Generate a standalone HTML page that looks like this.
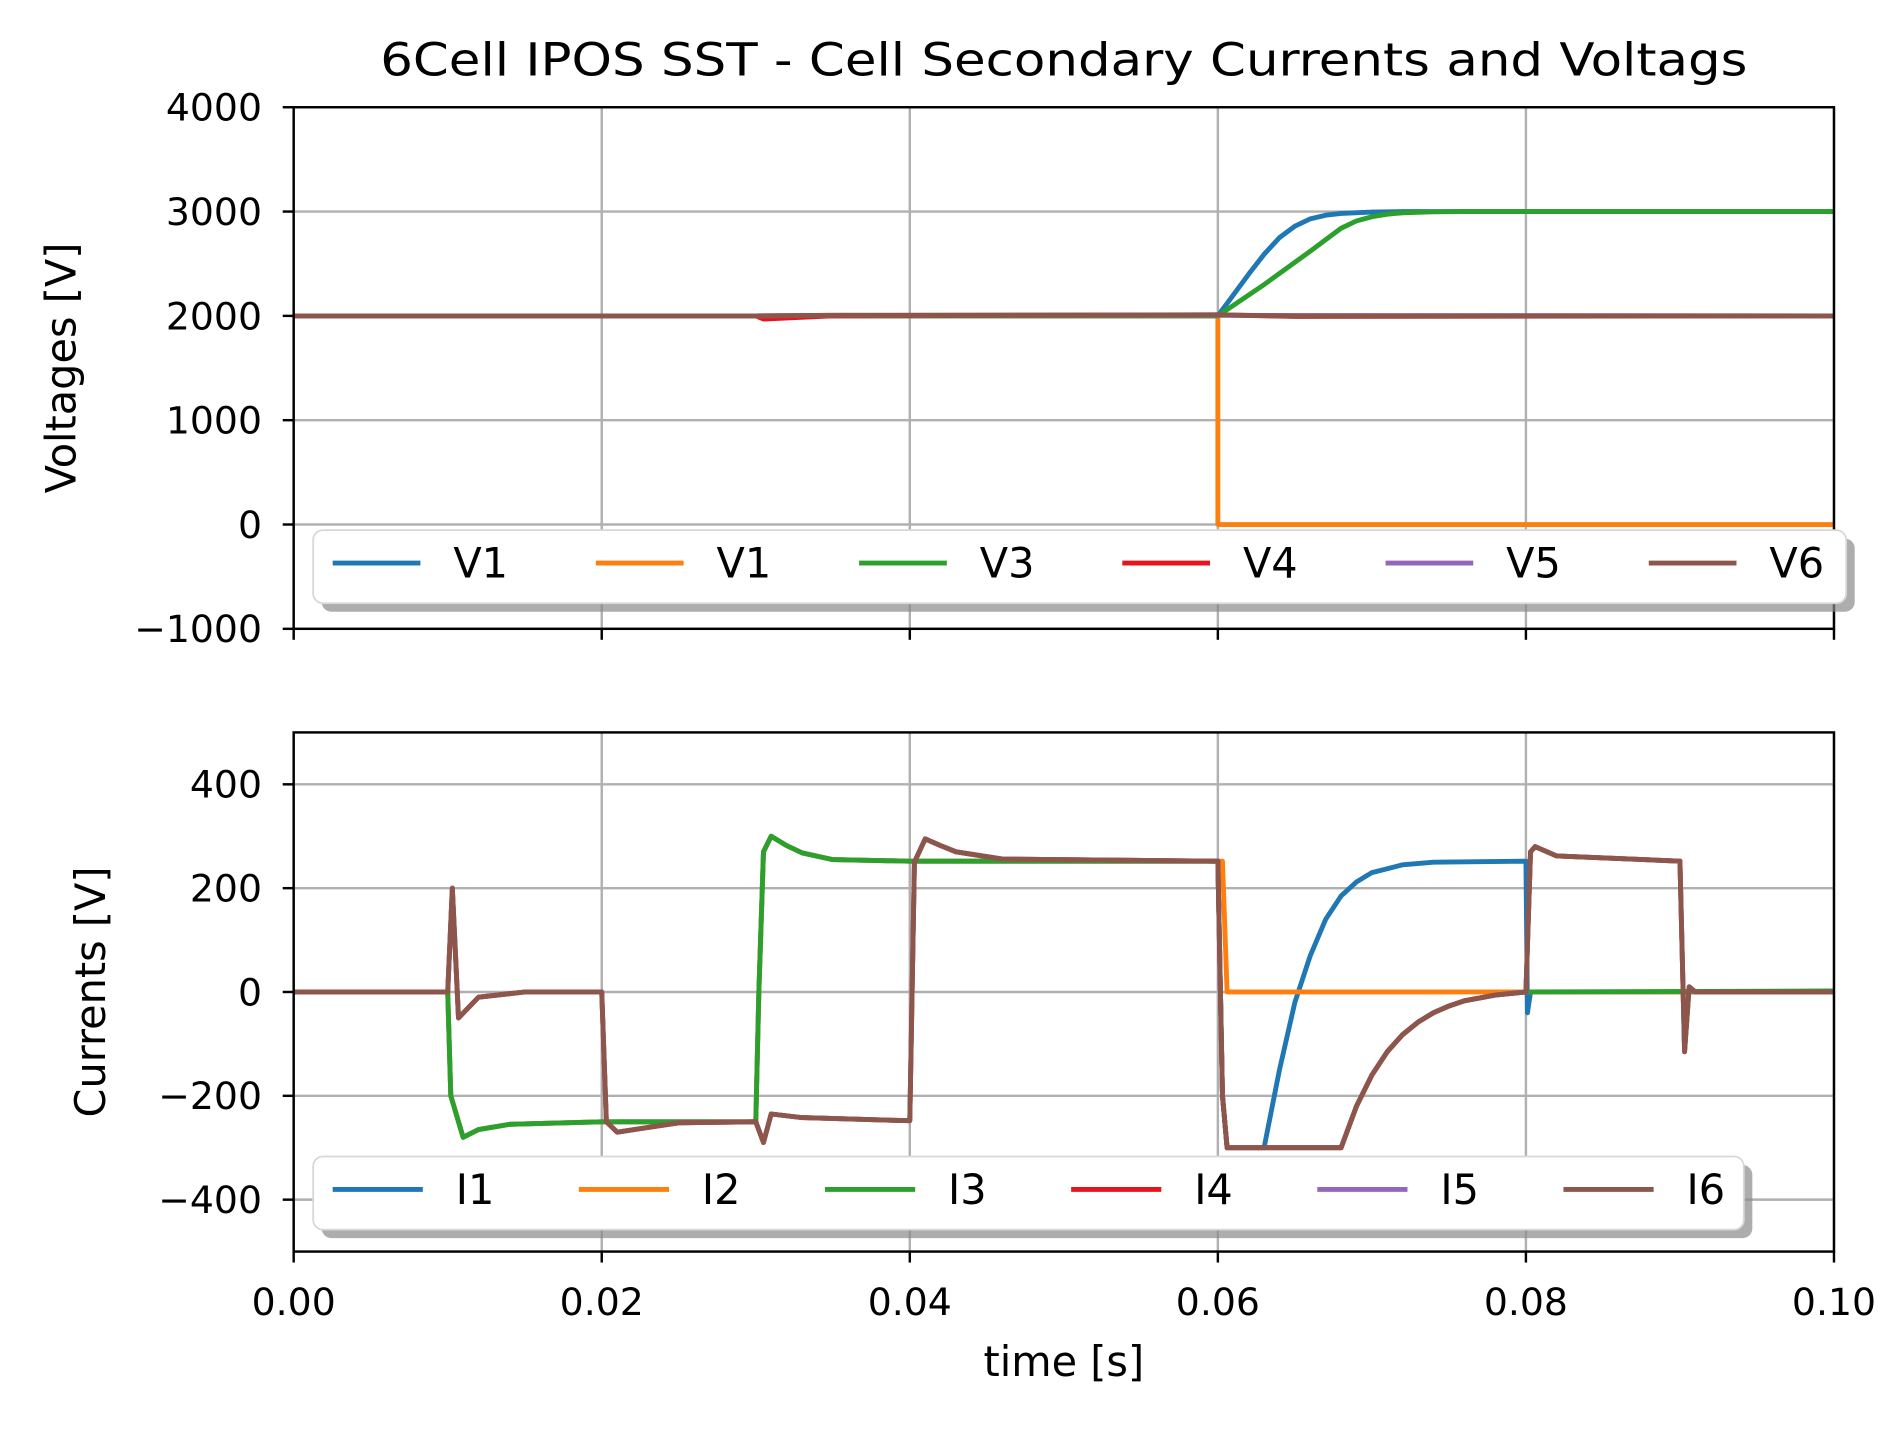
<!DOCTYPE html>
<html><head><meta charset="utf-8"><style>
html,body{margin:0;padding:0;background:#fff;}
svg{display:block;font-family:"DejaVu Sans","Liberation Sans",sans-serif;}
</style></head><body>
<svg id="chart" width="1901" height="1429" viewBox="0 0 1560 1172.6" preserveAspectRatio="none" xmlns="http://www.w3.org/2000/svg">
<text x="873" y="62" font-size="37" text-anchor="middle" textLength="1122" lengthAdjust="spacingAndGlyphs">6Cell IPOS SST - Cell Secondary Currents and Voltags</text>
<g id="g"></g>
</svg>
<script>
// ---- data ----
const xTicks = [0, 0.02, 0.04, 0.06, 0.08, 0.10];
const xTickLabels = ["0.00","0.02","0.04","0.06","0.08","0.10"];
const vTicks = [4000, 3000, 2000, 1000, 0, -1000];
const vTickLabels = ["4000","3000","2000","1000","0","\u22121000"];
const iTicks = [400, 200, 0, -200, -400];
const iTickLabels = ["400","200","0","\u2212200","\u2212400"];
const vNames = ["V1","V1","V3","V4","V5","V6"];
const iNames = ["I1","I2","I3","I4","I5","I6"];
const colors = ["#1f77b4","#ff7f0e","#2ca02c","#e8141b","#9467bd","#8c564b"];

const v1T = [0,0.06,0.061,0.062,0.063,0.064,0.065,0.066,0.067,0.068,0.070,0.072,0.1];
const v1V = [2000,2000,2200,2400,2590,2750,2860,2930,2965,2982,2995,3000,3000];
const v2T = [0,0.06,0.06,0.1];
const v2V = [2000,2000,0,0];
const v3T = [0,0.06,0.063,0.066,0.068,0.069,0.070,0.071,0.072,0.074,0.076,0.1];
const v3V = [2000,2000,2300,2620,2840,2910,2950,2975,2988,2997,3000,3000];
const v4T = [0,0.03,0.0305,0.035,0.06,0.065,0.1];
const v4V = [2000,2000,1970,2000,2010,1995,2000];
const v5T = [0,0.03,0.035,0.06,0.1];
const v5V = [2000,2000,2005,2005,2000];
const v6T = [0,0.03,0.035,0.06,0.065,0.1];
const v6V = [2000,2000,2005,2010,1997,2000];

const aT = [0,0.01,0.0102,0.011,0.012,0.014,0.02,0.03,0.0302,0.0305,0.031,0.032,0.033,0.035,0.04,0.06,0.0603,0.0606];
const aV = [0,0,-200,-280,-265,-255,-250,-250,0,270,300,282,268,255,252,252,-200,-300];
const i1T = aT.concat([0.063,0.064,0.065,0.066,0.067,0.068,0.069,0.070,0.072,0.074,0.08,0.0801,0.0803,0.1]);
const i1V = aV.concat([-300,-150,-20,70,140,185,212,230,245,250,252,-40,0,0]);
const i2T = aT.concat([0.0606,0.1]);
const i2V = aV.slice(0,aV.length-2).concat([252,0,0,0]);
const i3T = aT.concat([0.068,0.069,0.070,0.071,0.072,0.073,0.074,0.075,0.076,0.078,0.08,0.1]);
const i3V = aV.concat([-300,-220,-160,-115,-82,-58,-40,-27,-17,-6,0,2]);
const bT = [0,0.01,0.0103,0.0107,0.012,0.015,0.02,0.0203,0.021,0.025,0.03,0.0305,0.031,0.033,0.04,0.0403,0.041,0.042,0.043,0.046,0.06,0.0603,0.0606,0.068,0.069,0.070,0.071,0.072,0.073,0.074,0.075,0.076,0.078,0.08,0.0803,0.0806,0.082,0.09,0.0903,0.0906,0.091,0.1];
const i4V = [0,0,200,-50,-10,0,0,-250,-270,-252,-250,-290,-235,-242,-248,250,295,282,270,256,252,-200,-300,-300,-220,-160,-115,-82,-58,-40,-27,-17,-6,0,270,280,262,252,-115,10,0,0];
const i5V = i4V.slice();
const i6V = i4V.slice();

const vSeries = [[v1T,v1V],[v2T,v2V],[v3T,v3V],[v4T,v4V],[v5T,v5V],[v6T,v6V]];
const iSeries = [[i1T,i1V],[i2T,i2V],[i3T,i3V],[bT,i4V],[bT,i5V],[bT,i6V]];

// ---- layout ----
const L = 241, R = 1505;
const P1 = {top:88, bottom:516, min:-1000, max:4000};
const P2 = {top:601, bottom:1027, min:-500, max:500};
const xs = t => L + (t - 0) / 0.1 * (R - L);
const ys = (p, v) => p.bottom - (v - p.min) / (p.max - p.min) * (p.bottom - p.top);
const NS = "http://www.w3.org/2000/svg";
const g = document.getElementById('g');
function mk(tag, attrs, parent) {
  const e = document.createElementNS(NS, tag);
  for (const k in attrs) e.setAttribute(k, attrs[k]);
  (parent || g).appendChild(e);
  return e;
}

function panel(p, ticks, labels, series, names, ylabel, ylabX, legend, name, showXLabels) {
  const grp = mk('g', {});
  
  
  xTicks.forEach(t => {
    const ln = mk('line', {x1: xs(t), x2: xs(t), y1: p.top, y2: p.bottom, stroke: '#b0b0b0', 'stroke-width': 2}, grp);
    
    
    const tk = mk('line', {x1: xs(t), x2: xs(t), y1: p.bottom, y2: p.bottom + 9, stroke: '#000', 'stroke-width': 2}, grp);
    
    
  });
  ticks.forEach((v, i) => {
    const y = ys(p, v);
    const ln = mk('line', {x1: L, x2: R, y1: y, y2: y, stroke: '#b0b0b0', 'stroke-width': 2}, grp);
    
    
    const tk = mk('line', {x1: L - 9, x2: L, y1: y, y2: y, stroke: '#000', 'stroke-width': 2}, grp);
    
    
    const tx = mk('text', {x: L - 26, y: y + 11, 'font-size': 31, 'text-anchor': 'end'}, grp);
    tx.textContent = labels[i];
    
    
  });
  const clip = mk('clipPath', {id: name + '-clip'}, grp);
  mk('rect', {x: L, y: p.top, width: R - L, height: p.bottom - p.top}, clip);
  series.forEach((s, k) => {
    const d = s[0].map((t, j) => (j ? 'L' : 'M') + xs(t).toFixed(2) + ',' + ys(p, s[1][j]).toFixed(2)).join(' ');
    const path = mk('path', {d: d, fill: 'none', stroke: colors[k], 'stroke-width': 4, 'stroke-linejoin': 'round', 'clip-path': 'url(#' + name + '-clip)'}, grp);
    
    
  });
  const fr = mk('rect', {x: L, y: p.top, width: R - L, height: p.bottom - p.top, fill: 'none', stroke: '#000', 'stroke-width': 2}, grp);
  
  
  const cy = (p.top + p.bottom) / 2;
  const yl = mk('text', {x: ylabX, y: cy, 'font-size': 34, 'text-anchor': 'middle', transform: 'rotate(-90 ' + ylabX + ' ' + cy + ')'}, grp);
  yl.textContent = ylabel;
  
  
  const lg = mk('g', {}, grp);
  
  
  mk('rect', {x: legend.x + 7, y: legend.y + 7, width: legend.w, height: legend.h, rx: 8, fill: '#8a8a8a', opacity: 0.7}, lg);
  mk('rect', {x: legend.x, y: legend.y, width: legend.w, height: legend.h, rx: 8, fill: '#fff', stroke: '#d8d8d8', 'stroke-width': 1.5}, lg);
  names.forEach((n, k) => {
    const x0 = legend.x0 + k * legend.step;
    const yy = legend.y + legend.h / 2 - 3;
    const e = mk('g', {}, lg);
    
    
    mk('line', {x1: x0, x2: x0 + legend.len, y1: yy, y2: yy, stroke: colors[k], 'stroke-width': 4}, e);
    const t = mk('text', {x: x0 + legend.len + 27, y: yy + 12, 'font-size': 34}, e);
    t.textContent = n;
  });
  if (showXLabels) {
    xTicks.forEach((t, i) => {
      const tx = mk('text', {x: xs(t), y: p.bottom + 52, 'font-size': 31, 'text-anchor': 'middle'}, grp);
      tx.textContent = xTickLabels[i];
      
      
    });
  }
}

panel(P1, vTicks, vTickLabels, vSeries, vNames, 'Voltages [V]', 62,
  {x: 257, y: 435, w: 1258, h: 60, x0: 273, step: 216, len: 72}, 'voltage', false);
panel(P2, iTicks, iTickLabels, iSeries, iNames, 'Currents [V]', 86,
  {x: 257, y: 949, w: 1174, h: 60, x0: 273, step: 202, len: 74}, 'current', true);

const xl = mk('text', {x: 873, y: 1129, 'font-size': 34, 'text-anchor': 'middle'});
xl.textContent = 'time [s]';


</script>
</body></html>
